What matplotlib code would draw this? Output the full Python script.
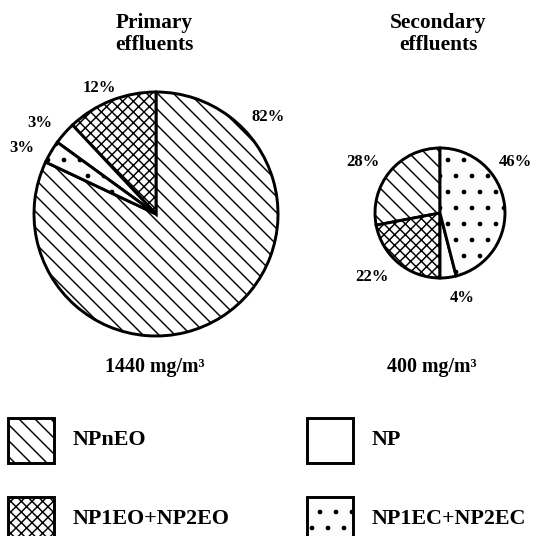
import matplotlib
matplotlib.use('Agg')
import matplotlib.pyplot as plt
from matplotlib.patches import Rectangle

# data
categories = ['NPnEO', 'NP1EO+NP2EO', 'NP', 'NP1EC+NP2EC']
hatches = ['\\\\', 'xxx', '', '.']
primary = [82, 12, 3, 3]
secondary = [28, 22, 4, 46]
primary_total = '1440 mg/m³'
secondary_total = '400 mg/m³'

W, H = 538, 536
DPI = 96

plt.rcParams['font.family'] = ['Liberation Serif', 'DejaVu Serif']
plt.rcParams['font.weight'] = 'bold'
plt.rcParams['hatch.linewidth'] = 1.1

fig = plt.figure(figsize=(W / DPI, H / DPI), dpi=DPI)
ax = fig.add_axes([0, 0, 1, 1])


def Y(y):
    # pixel row (from top) -> data y
    return H - y


wprops = dict(edgecolor='black', linewidth=2.2, facecolor='white')

# primary effluents pie, NPnEO ends at 12 o'clock
w1, _ = ax.pie(primary, radius=122, center=(156, Y(214)),
               startangle=90 - 3.6 * primary[0], counterclock=True,
               wedgeprops=wprops, frame=True)
# secondary effluents pie, NPnEO starts at 12 o'clock
w2, _ = ax.pie(secondary, radius=65, center=(440, Y(213)),
               startangle=90, counterclock=True,
               wedgeprops=wprops, frame=True)
for wedges in (w1, w2):
    for w, h in zip(wedges, hatches):
        w.set_hatch(h)

# percentage labels
pct_pos1 = [(268, 117), (99, 88), (40, 123), (22, 148)]
pct_pos2 = [(363, 162), (372, 277), (462, 298), (515, 162)]
for vals, pos in ((primary, pct_pos1), (secondary, pct_pos2)):
    for v, (x, y) in zip(vals, pos):
        ax.text(x, Y(y), '%d%%' % v, ha='center', va='center', fontsize=12.5)

# titles
ax.text(154, Y(34), 'Primary\neffluents', ha='center', va='center',
        fontsize=16, linespacing=1.1)
ax.text(438, Y(34), 'Secondary\neffluents', ha='center', va='center',
        fontsize=16, linespacing=1.1)
ax.text(155, Y(367), primary_total, ha='center', va='center', fontsize=15)
ax.text(432, Y(367), secondary_total, ha='center', va='center', fontsize=15)

# legend boxes
leg_pos = [(8, 418), (8, 497), (307, 418), (307, 497)]
for cat, h, (x, y) in zip(categories, hatches, leg_pos):
    ax.add_patch(Rectangle((x, Y(y + 45)), 46, 45, facecolor='white',
                           edgecolor='black', linewidth=2.2, hatch=h))
    ax.text(x + 65, Y(y + 22), cat, ha='left', va='center', fontsize=16.5)

ax.set_xlim(0, W)
ax.set_ylim(0, H)
ax.set_aspect('auto')
ax.axis('off')

fig.savefig('out.png', dpi=DPI)
